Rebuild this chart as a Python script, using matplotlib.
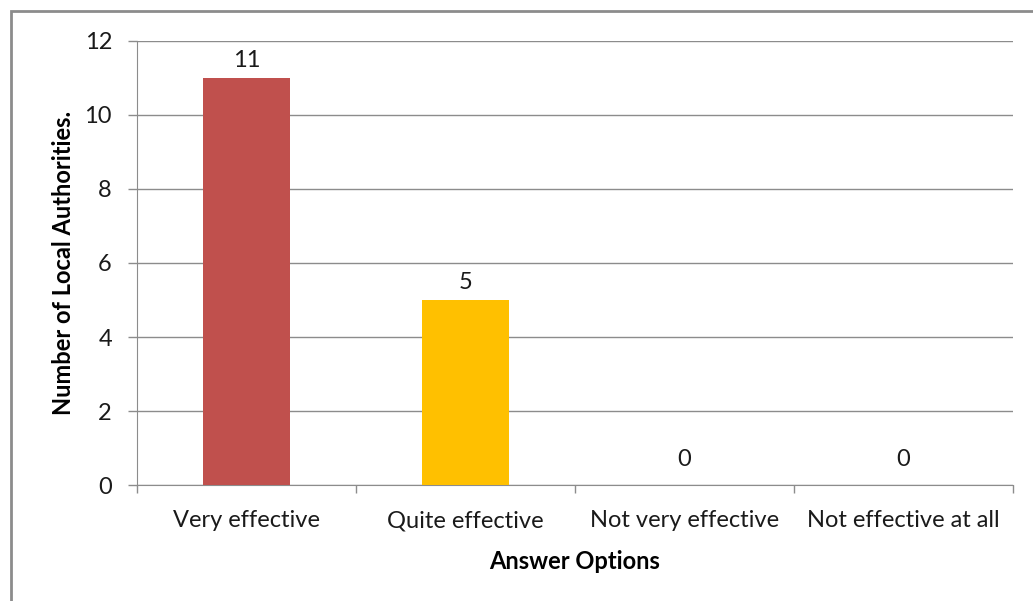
import matplotlib.pyplot as plt
from matplotlib.patches import Rectangle

categories = ["Very effective", "Quite effective", "Not very effective", "Not effective at all"]
counts = [11, 5, 0, 0]
bar_colors = ["#C0504D", "#FFC000", "#4F81BD", "#9BBB59"]
y_ticks = [0, 2, 4, 6, 8, 10, 12]

plt.rcParams["font.family"] = ["Lato", "DejaVu Sans"]
grid_color = "#8c8c8c"
text_color = "#1a1a1a"

fig = plt.figure(figsize=(10.33, 6.01), dpi=100)
ax = fig.add_axes([0.1326, 0.193, 0.848, 0.7388])

positions = range(len(categories))
ax.bar(positions, counts, width=0.4, color=bar_colors, zorder=3)
for x, v in zip(positions, counts):
    # empty bars get their label lifted a bit more, like the Excel original
    lift = 11 if v == 0 else 5
    ax.annotate(str(v), (x, v), xytext=(0, lift), textcoords="offset points",
                ha="center", va="bottom", fontsize=17, color=text_color)

ax.set_xlim(-0.5, len(categories) - 0.5)
ax.set_ylim(0, 12)
ax.set_yticks(y_ticks)
ax.yaxis.grid(True, color=grid_color, linewidth=1, zorder=0)

# category boundaries get ticks, labels sit at centres
ax.set_xticks([i - 0.5 for i in range(len(categories) + 1)])
ax.set_xticklabels([])
ax.set_xticks(list(positions), minor=True)
ax.set_xticklabels(categories, minor=True, fontsize=17, color=text_color)
ax.tick_params(axis="x", which="major", length=5.8, color=grid_color, width=1)
ax.tick_params(axis="x", which="minor", length=0, pad=18)
ax.tick_params(axis="y", length=6.5, color=grid_color, width=1, labelsize=17,
               labelcolor=text_color, pad=11.5)

for side in ["top", "right"]:
    ax.spines[side].set_visible(False)
ax.spines["left"].set_color(grid_color)
ax.spines["bottom"].set_color(grid_color)

ax.set_xlabel("Answer Options", fontsize=17, fontweight="bold", labelpad=14)
ax.set_ylabel("Number of Local Authorities.", fontsize=17, fontweight="bold", labelpad=7)

# outer frame, open on the right and bottom edges
fig.patches.append(Rectangle((11 / 1033, -0.1), 1.2, 1 - 11 / 601 + 0.1,
                             transform=fig.transFigure, fill=False,
                             edgecolor="#8c8c8c", linewidth=2))

fig.savefig("out.png", dpi=100)
